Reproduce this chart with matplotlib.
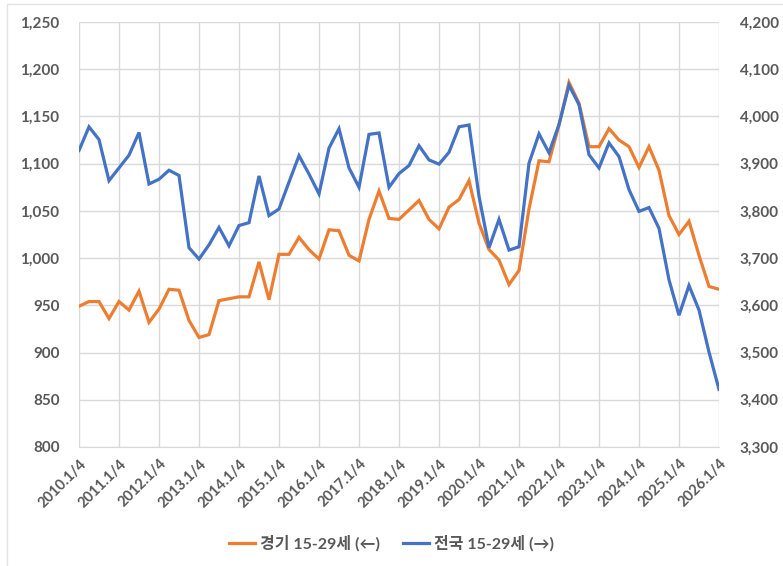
import matplotlib
matplotlib.use("Agg")
import matplotlib.pyplot as plt
from matplotlib.ticker import FuncFormatter, MultipleLocator
from matplotlib.patches import Rectangle

plt.rcParams['font.family'] = ['Lato', 'Noto Sans CJK KR', 'DejaVu Sans']

years = list(range(2010, 2027))
tick_labels = [f"{y}.1/4" for y in years]

gyeonggi = [949, 954, 954, 936, 954, 945, 965, 932, 946, 967, 966, 934, 916, 919, 955, 957,
            959, 959, 996, 956, 1004, 1004, 1022, 1009, 999, 1030, 1029, 1003, 997, 1041, 1071, 1042,
            1041, 1051, 1061, 1041, 1031, 1054, 1062, 1082, 1037, 1009, 998, 972, 987, 1052, 1103, 1102,
            1141, 1186, 1164, 1118, 1118, 1137, 1125, 1118, 1096, 1118, 1093, 1045, 1025, 1039, 1003, 970,
            967]
national = [3928, 3978, 3951, 3864, 3891, 3918, 3966, 3857, 3867, 3886, 3875, 3722, 3698, 3728, 3765, 3726,
            3769, 3775, 3874, 3790, 3804, 3861, 3917, 3878, 3836, 3933, 3974, 3891, 3850, 3962, 3965, 3850,
            3879, 3896, 3938, 3908, 3899, 3924, 3978, 3982, 3831, 3722, 3782, 3717, 3724, 3901, 3963, 3923,
            3983, 4066, 4025, 3919, 3891, 3944, 3915, 3845, 3799, 3807, 3763, 3654, 3579, 3642, 3590, 3501,
            3422]

legend_g = "경기 15-29세 (←)"
legend_n = "전국 15-29세 (→)"

ORANGE = "#ED7D31"
BLUE = "#4472C4"
TXT = "#595959"
GRID = "#D9D9D9"

fig = plt.figure(figsize=(7.83, 5.66), dpi=100)
fig.patches.append(Rectangle((7/783, -0.1), 1.2, 1 - 4/566 + 0.1, transform=fig.transFigure,
                             fill=False, edgecolor="#E3E3E3", lw=1.0))
ax = fig.add_axes([79/783, 1-447/566, 640/783, 425/566])
ax2 = ax.twinx()

x = list(range(len(gyeonggi)))
l1, = ax.plot(x, gyeonggi, color=ORANGE, lw=2.3, solid_joinstyle='miter', zorder=3)
l2, = ax2.plot(x, national, color=BLUE, lw=2.3, solid_joinstyle='miter', zorder=3)

ax.set_xlim(0, len(gyeonggi) - 1)
ax.set_ylim(800, 1250)
ax2.set_ylim(3300, 4200)
ax.yaxis.set_major_locator(MultipleLocator(50))
ax2.yaxis.set_major_locator(MultipleLocator(100))
fmt = FuncFormatter(lambda v, p: f"{int(round(v)):,}")
ax.yaxis.set_major_formatter(fmt)
ax2.yaxis.set_major_formatter(fmt)

ax.set_xticks(list(range(0, len(gyeonggi), 4)))
ax.set_xticklabels(tick_labels, rotation=45, ha='right', rotation_mode='anchor',
                   fontsize=10.5, fontweight='bold', color=TXT)

ax.grid(True, color=GRID, lw=1.0, zorder=0)
ax.set_axisbelow(True)
for a in (ax, ax2):
    for s in a.spines.values():
        s.set_visible(False)
ax.spines['bottom'].set_visible(True)
ax.spines['bottom'].set_color(GRID)

ax.tick_params(axis='both', length=0)
ax2.tick_params(axis='both', length=0)
ax.tick_params(axis='y', pad=14)
ax.tick_params(axis='x', pad=7)
ax2.tick_params(axis='y', pad=15)
for lab in ax.get_yticklabels() + ax2.get_yticklabels():
    lab.set_fontsize(11)
    lab.set_fontweight('bold')
    lab.set_color(TXT)

fig.legend([l1, l2], [legend_g, legend_n], loc='center', bbox_to_anchor=(0.5, 1-543/566),
           ncol=2, frameon=False, handlelength=1.6, columnspacing=1.5, handletextpad=0.3,
           prop={'size': 11.5, 'weight': 'bold'}, labelcolor=TXT)

fig.savefig("out.png", dpi=100)
